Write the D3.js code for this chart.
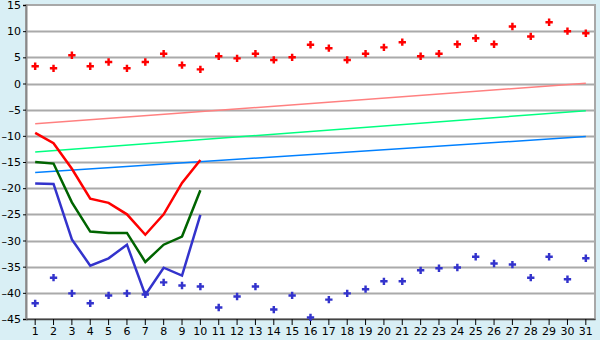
<!DOCTYPE html>
<html>
<head>
<meta charset="utf-8">
<script src="https://cdn.jsdelivr.net/npm/d3@7"></script>
<style>
  body { margin: 0; background: #d9eff5; }
  svg { display: block; }
</style>
</head>
<body>
<svg id="chart"></svg>
<script>
const days = d3.range(1, 32);
const yTicks = [15, 10, 5, 0, -5, -10, -15, -20, -25, -30, -35, -40, -45];

// scattered daily values
const redPoints = [3.3, 2.9, 5.4, 3.3, 4.1, 2.9, 4.1, 5.7, 3.5, 2.7,
  5.2, 4.8, 5.7, 4.5, 5.0, 7.4, 6.75, 4.5, 5.7, 6.9,
  7.9, 5.2, 5.7, 7.5, 8.65, 7.5, 10.9, 9.0, 11.7, 10.0, 9.6];
const bluePoints = [-42.0, -37.1, -40.1, -42.0, -40.5, -40.1, -40.3, -38.0, -38.6, -38.8,
  -42.8, -40.7, -38.8, -43.2, -40.5, -44.7, -41.3, -40.1, -39.3, -37.8,
  -37.8, -35.7, -35.3, -35.15, -33.1, -34.4, -34.6, -37.1, -33.1, -37.4, -33.4];

// lines for days 1..10
const redLine = [-9.45, -11.4, -16.3, -22.0, -22.8, -25.0, -28.9, -25.0, -19.0, -14.6];
const greenLine = [-15.0, -15.3, -22.7, -28.3, -28.55, -28.55, -34.1, -30.8, -29.25, -20.4];
const blueLine = [-19.1, -19.2, -29.8, -34.8, -33.4, -30.8, -40.4, -35.2, -36.7, -25.1];

// trend lines, day 1 and day 31
const pinkTrend = [-7.7, 0.05];
const mintTrend = [-13.1, -5.2];
const skyTrend = [-17.0, -10.15];

const width = 600, height = 340;
const margin = { top: 5, right: 5, bottom: 21, left: 26 };

const svg = d3.select('#chart').attr('width', width).attr('height', height);

const x = d3.scaleBand()
    .domain(days)
    .range([margin.left, width - margin.right]);
const y = d3.scaleLinear()
    .domain([-45, 15])
    .range([height - margin.bottom, margin.top]);
const cx = d => x(d) + x.bandwidth() / 2;

svg.append('rect')
    .attr('x', margin.left)
    .attr('y', margin.top)
    .attr('width', width - margin.left - margin.right)
    .attr('height', height - margin.top - margin.bottom)
    .attr('fill', '#fff')
    .attr('stroke', '#a8a8a8')
    .attr('stroke-width', 2);

// gridlines
svg.append('g').selectAll('line').data(yTicks.filter(v => v > -45 && v < 15)).enter()
    .append('line')
    .attr('x1', margin.left).attr('x2', width - margin.right)
    .attr('y1', v => Math.round(y(v)) + 0.5).attr('y2', v => Math.round(y(v)) + 0.5)
    .attr('stroke', '#aaa').attr('stroke-width', 2);

// y axis
const yAxis = svg.append('g')
    .attr('transform', `translate(${margin.left},0)`)
    .call(d3.axisLeft(y).tickValues(yTicks).tickSize(3).tickFormat(d => d < 0 ? '\u2013' + Math.abs(d) : d));
yAxis.select('.domain').attr('stroke', '#888').attr('stroke-width', 2);
yAxis.selectAll('.tick line').attr('stroke', '#000');
yAxis.selectAll('text')
    .attr('font-family', 'DejaVu Sans, Verdana, sans-serif')
    .attr('font-size', 11)
    .attr('fill', '#000')
    .attr('x', -5);

// x axis
const xAxis = svg.append('g')
    .attr('transform', `translate(0,${height - margin.bottom})`)
    .call(d3.axisBottom(x).tickSize(6).tickSizeOuter(0));
xAxis.select('.domain').attr('stroke', '#444').attr('stroke-width', 1.5);
xAxis.selectAll('.tick line').attr('stroke', '#000');
xAxis.selectAll('text')
    .attr('font-family', 'DejaVu Sans, Verdana, sans-serif')
    .attr('font-size', 11)
    .attr('fill', '#000')
    .attr('y', 8);

// trend lines
const trendLine = d3.line().x(d => cx(d[0])).y(d => y(d[1]));
[[pinkTrend, '#ff8080'], [mintTrend, '#00ff80'], [skyTrend, '#0080ff']].forEach(([t, c]) => {
    svg.append('path')
        .attr('d', trendLine([[1, t[0]], [31, t[1]]]))
        .attr('fill', 'none')
        .attr('stroke', c)
        .attr('stroke-width', 1.5);
});

// data lines
const line = d3.line().x((d, i) => cx(days[i])).y(d => y(d));
[[redLine, '#ff0000'], [greenLine, '#006400'], [blueLine, '#3333cc']].forEach(([s, c]) => {
    svg.append('path')
        .attr('d', line(s))
        .attr('fill', 'none')
        .attr('stroke', c)
        .attr('stroke-width', 2.5);
});

// markers
const cross = d3.symbol().type(d3.symbolCross).size(30);
svg.append('g').selectAll('path').data(redPoints).enter()
    .append('path')
    .attr('d', cross)
    .attr('transform', (d, i) => `translate(${cx(days[i])},${y(d)})`)
    .attr('fill', '#ff0000');
svg.append('g').selectAll('path').data(bluePoints).enter()
    .append('path')
    .attr('d', cross)
    .attr('transform', (d, i) => `translate(${cx(days[i])},${y(d)})`)
    .attr('fill', '#3333cc');
</script>
</body>
</html>
